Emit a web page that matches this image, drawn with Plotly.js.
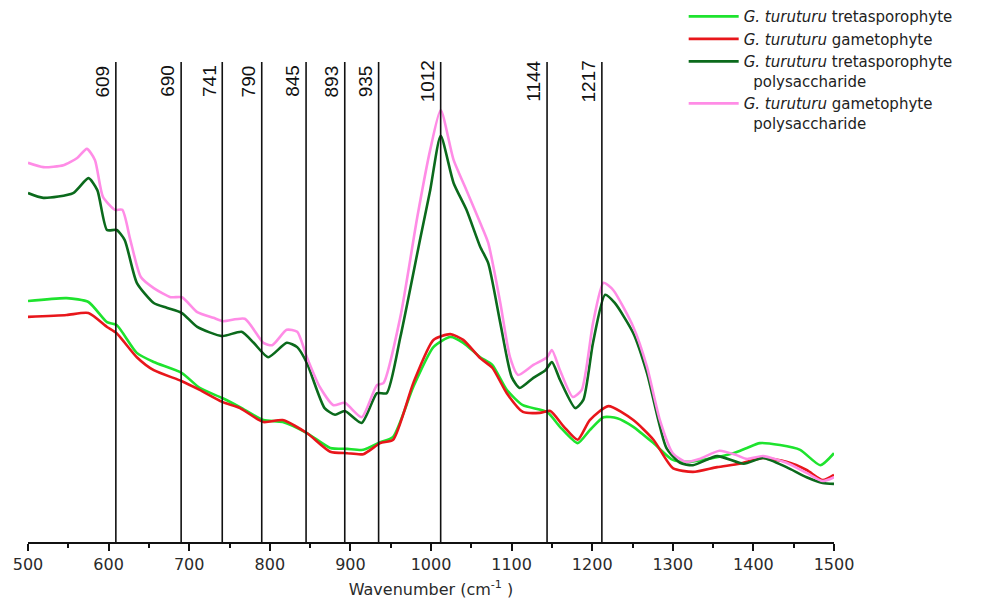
<!DOCTYPE html>
<html>
<head>
<meta charset="utf-8">
<script src="https://cdn.plot.ly/plotly-3.0.1.min.js"></script>
<style>
  html, body { margin: 0; padding: 0; background: #ffffff; }
  #chart { width: 991px; height: 599px; }
</style>
</head>
<body>
<div id="chart"></div>
<script>
// ---- Data (arbitrary absorbance units) ----
const tetraX = [500,548,575,598,610,635,656,691,713,741,763,792,816,846,875,896,916,937,953,978,1003,1024,1040,1061,1076,1094,1114,1144,1160,1182,1197,1214,1231,1251,1276,1300,1321,1350,1375,1392,1408,1433,1458,1483,1500];
const tetraY = [50.2,50.8,50.0,45.8,45.2,39.4,37.5,35.2,32.1,30.0,28.1,25.4,25.0,22.7,19.6,19.4,19.2,20.8,21.9,32.3,40.6,42.7,41.5,38.5,36.9,31.7,28.5,27.1,24.0,20.6,23.3,26.0,25.8,24.0,20.6,17.1,16.7,17.5,18.5,19.6,20.6,20.2,19.2,16.0,18.5];

const gameX = [500,548,575,598,610,635,656,691,713,741,763,792,816,846,875,896,916,937,953,978,1003,1024,1040,1061,1076,1094,1114,1135,1148,1165,1182,1197,1220,1251,1276,1300,1325,1355,1383,1412,1441,1466,1486,1500];
const gameY = [46.9,47.3,47.7,44.8,43.5,38.5,35.8,33.5,31.7,29.2,27.9,25.0,25.4,22.7,18.8,18.5,18.3,20.6,21.3,33.1,42.1,43.3,42.1,38.3,36.3,31.0,27.1,26.9,27.3,24.0,21.3,25.4,28.3,25.4,21.3,15.4,14.6,15.6,16.3,17.5,16.7,15.0,12.9,14.0];

const tetraPolyX = [500,519,556,575,586,598,610,620,635,656,672,691,710,741,765,780,798,821,834,846,868,881,893,914,933,945,962,987,999,1012,1028,1044,1061,1071,1086,1100,1110,1127,1142,1150,1160,1179,1189,1201,1216,1228,1251,1268,1292,1309,1325,1355,1388,1412,1441,1466,1486,1500];
const tetraPolyY = [72.7,71.7,72.7,75.8,73.3,65.0,65.0,62.9,54.0,49.8,48.8,47.7,44.8,42.9,43.8,41.5,38.5,41.5,40.6,37.3,27.9,26.5,27.3,24.8,31.0,31.0,42.7,63.5,73.3,84.6,74.8,69.2,61.5,58.1,45.6,34.4,32.1,34.2,35.8,37.5,33.8,27.9,29.6,41.5,51.5,49.8,43.5,35.2,19.6,16.5,16.0,17.9,16.3,17.5,15.6,13.5,12.3,12.1];

const gamePolyX = [500,519,544,561,573,583,593,608,617,627,640,656,677,691,710,730,742,769,792,803,821,834,846,862,879,893,914,933,941,962,983,999,1012,1028,1044,1061,1071,1086,1098,1108,1127,1144,1150,1160,1176,1187,1201,1214,1226,1251,1268,1284,1300,1316,1333,1358,1379,1392,1412,1441,1466,1486,1500];
const gamePolyY = [79.0,78.1,78.5,80.0,81.9,79.6,71.9,69.2,69.2,62.9,55.2,52.9,51.0,51.0,47.9,46.7,46.0,46.5,41.5,41.0,44.2,43.8,38.5,32.3,28.5,29.0,26.0,32.7,33.1,46.9,67.7,81.7,90.0,79.6,73.3,66.5,62.3,49.8,38.5,34.8,36.9,38.5,40.0,35.8,30.2,31.7,45.6,54.0,52.5,44.8,36.5,25.4,18.5,16.7,17.3,19.0,18.1,17.3,17.9,16.5,14.4,12.7,13.5];

const seriesNames = [
  "<i>G. turuturu</i> tretasporophyte",
  "<i>G. turuturu</i> gametophyte",
  "<i>G. turuturu</i> tretasporophyte<br>&nbsp;&nbsp;polysaccharide",
  "<i>G. turuturu</i> gametophyte<br>&nbsp;&nbsp;polysaccharide"
];
const seriesColors = ["#1ee32e", "#e8161b", "#0b6a1c", "#ff8ce6"];

// Marked band positions and their labels
const bandX = [609, 690, 741, 790, 845, 893, 935, 1012, 1144, 1212];
const bandLabels = ["609", "690", "741", "790", "845", "893", "935", "1012", "1144", "1217"];

const xs = [tetraX, gameX, tetraPolyX, gamePolyX];
const ys = [tetraY, gameY, tetraPolyY, gamePolyY];

const traces = xs.map((x, i) => ({
  type: "scatter",
  mode: "lines",
  x: x,
  y: ys[i],
  name: seriesNames[i],
  line: { color: seriesColors[i], width: 2.6, shape: "spline", smoothing: 0.6 },
  hoverinfo: "skip"
}));

const shapes = bandX.map(v => ({
  type: "line", xref: "x", yref: "paper",
  x0: v, x1: v, y0: 0, y1: 1,
  line: { color: "#111111", width: 1.6 },
  layer: "above"
}));

const annotations = bandX.map((v, i) => ({
  x: v, xref: "x", y: 0.96, yref: "paper",
  text: bandLabels[i], textangle: -90,
  showarrow: false, xanchor: "right", yanchor: "middle", xshift: -1,
  font: { family: "Liberation Sans, Arial, sans-serif", size: 19, color: "#111111" }
}));

const layout = {
  width: 991, height: 599,
  paper_bgcolor: "#ffffff", plot_bgcolor: "#ffffff",
  margin: { l: 28, r: 157, t: 62, b: 57, autoexpand: false },
  showlegend: true,
  legend: {
    x: 0.8135, xanchor: "left", y: 1.129, yanchor: "top",
    font: { family: "DejaVu Sans, sans-serif", size: 15, color: "#222222" },
    bgcolor: "rgba(0,0,0,0)", borderwidth: 0,
    tracegroupgap: 0, itemwidth: 50, valign: "top"
  },
  xaxis: {
    range: [500, 1500], fixedrange: true,
    showgrid: false, zeroline: false,
    showline: true, linecolor: "#111111", linewidth: 2,
    ticks: "outside", ticklen: 7, tickwidth: 2, tickcolor: "#111111",
    dtick: 100, tick0: 500,
    minor: { dtick: 50, ticks: "outside", ticklen: 4, tickwidth: 2, tickcolor: "#111111" },
    tickfont: { family: "DejaVu Sans, sans-serif", size: 16, color: "#2a2a2a" },
    title: { text: "Wavenumber (cm<sup>-1</sup> )", standoff: 11,
             font: { family: "DejaVu Sans, sans-serif", size: 16, color: "#2a2a2a" } },
    automargin: false
  },
  yaxis: { range: [0, 100], visible: false, fixedrange: true, showgrid: false, zeroline: false },
  shapes: shapes,
  annotations: annotations
};

Plotly.newPlot("chart", traces, layout, { displayModeBar: false, staticPlot: true });
</script>
</body>
</html>
